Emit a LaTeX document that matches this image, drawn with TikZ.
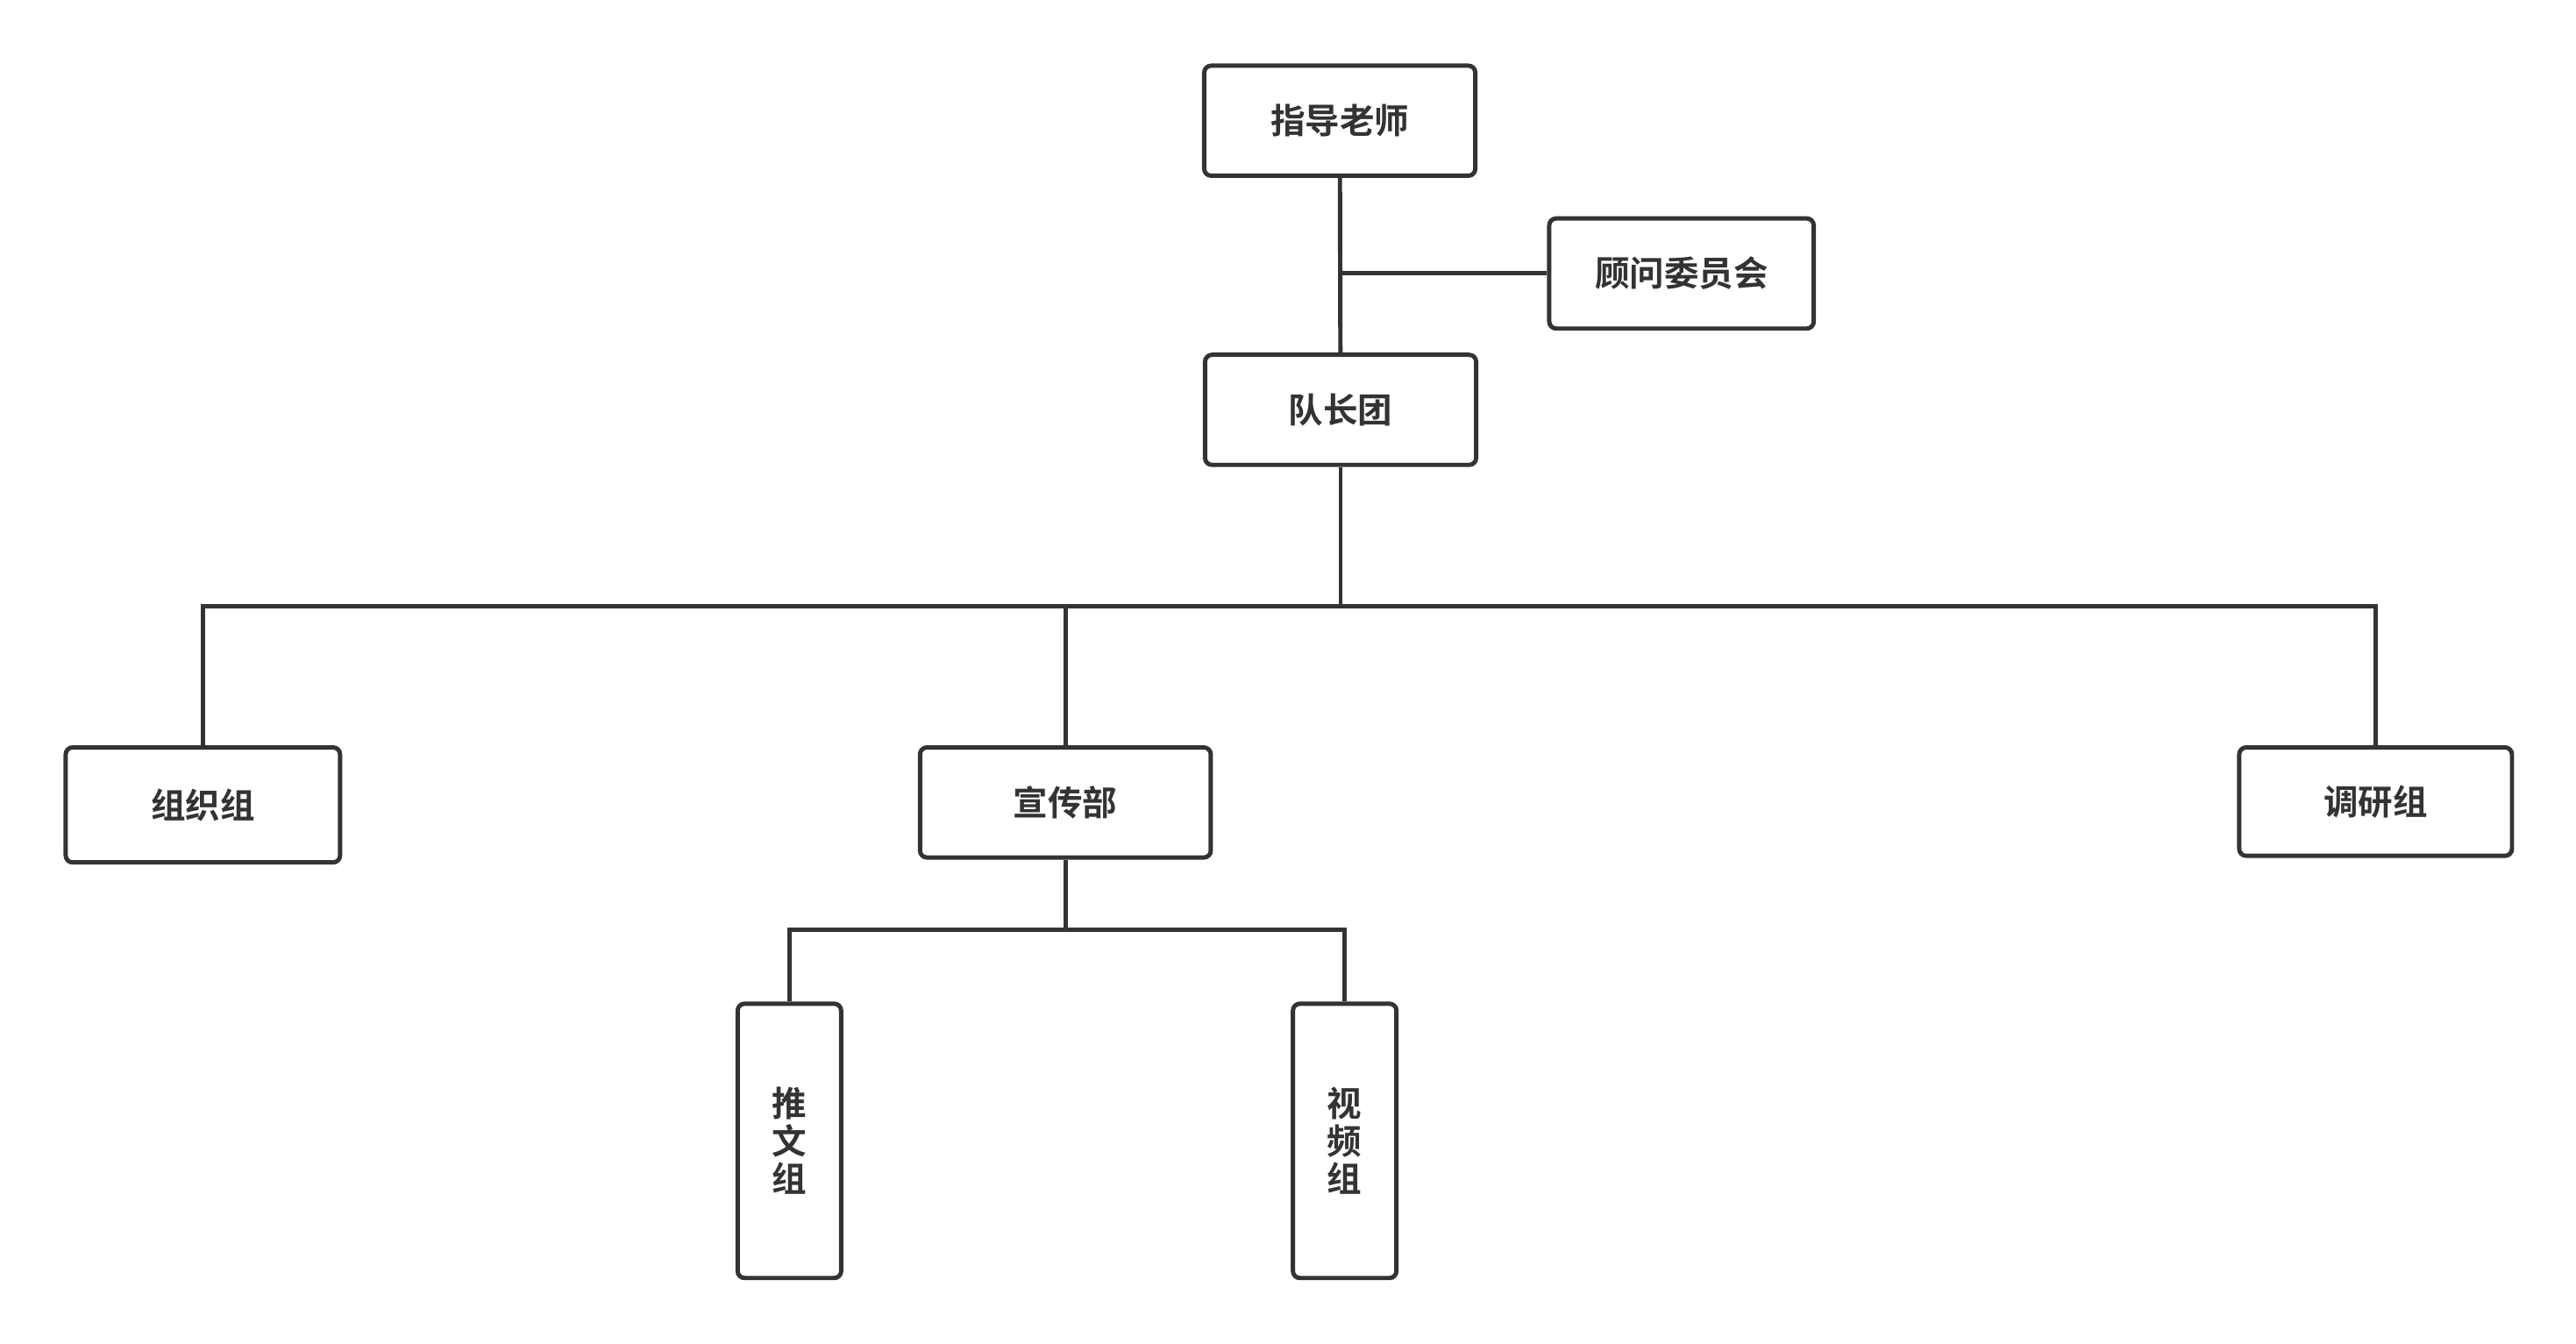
\documentclass[tikz,border=0pt]{standalone}
\usepackage{fontspec}
\newfontfamily\cjk{Noto Sans CJK SC}[BoldFont={Noto Sans CJK SC Bold}]
\usetikzlibrary{positioning}
\definecolor{grisOscuro}{RGB}{51,51,51}
\tikzset{box/.style={draw=grisOscuro, line width=0.75pt, rounded corners=1.2pt,
                     minimum width=1.65cm, minimum height=0.67cm, inner sep=0pt,
                     font=\cjk\bfseries\fontsize{6}{7.5}\selectfont, text=grisOscuro},
         tall/.style={box, minimum width=0.63cm, minimum height=1.67cm, align=center},
         edge/.style={draw=grisOscuro, line width=0.75pt}}
\begin{document}
\begin{tikzpicture}
    \useasboundingbox (0,0) rectangle (15.68,-8.18);

    \node (guide) [box] at (8.155,-0.735) {指导老师};
    \node (advis) [box, minimum width=1.61cm] at (10.235,-1.665) {顾问委员会};
    \node (lead)  [box] at (8.16,-2.495) {队长团};
    \node (org)   [box, minimum width=1.67cm, minimum height=0.70cm] at (1.235,-4.90) {组织组};
    \node (prop)  [box, minimum width=1.77cm] at (6.485,-4.885) {宣传部};
    \node (rese)  [box, minimum width=1.66cm, minimum height=0.66cm] at (14.46,-4.88) {调研组};
    \node (post)  [tall] at (4.805,-6.945) {推\\[-1pt]文\\[-1pt]组};
    \node (video) [tall] at (8.185,-6.945) {视\\[-1pt]频\\[-1pt]组};

    \coordinate (mid) at (8.16,-1.665);
    \coordinate (bus) at (8.16,-3.69);
    \coordinate (sub) at (6.485,-5.66);

    \draw [edge] (guide) -- (lead);
    \draw [edge] (mid) -- (advis);
    \draw [edge] (lead) -- (bus);
    \foreach \n in {org,prop,rese}
        \draw [edge] (bus) -| (\n);
    \draw [edge] (prop) -- (sub);
    \foreach \n in {post,video}
        \draw [edge] (sub) -| (\n);
\end{tikzpicture}
\end{document}
